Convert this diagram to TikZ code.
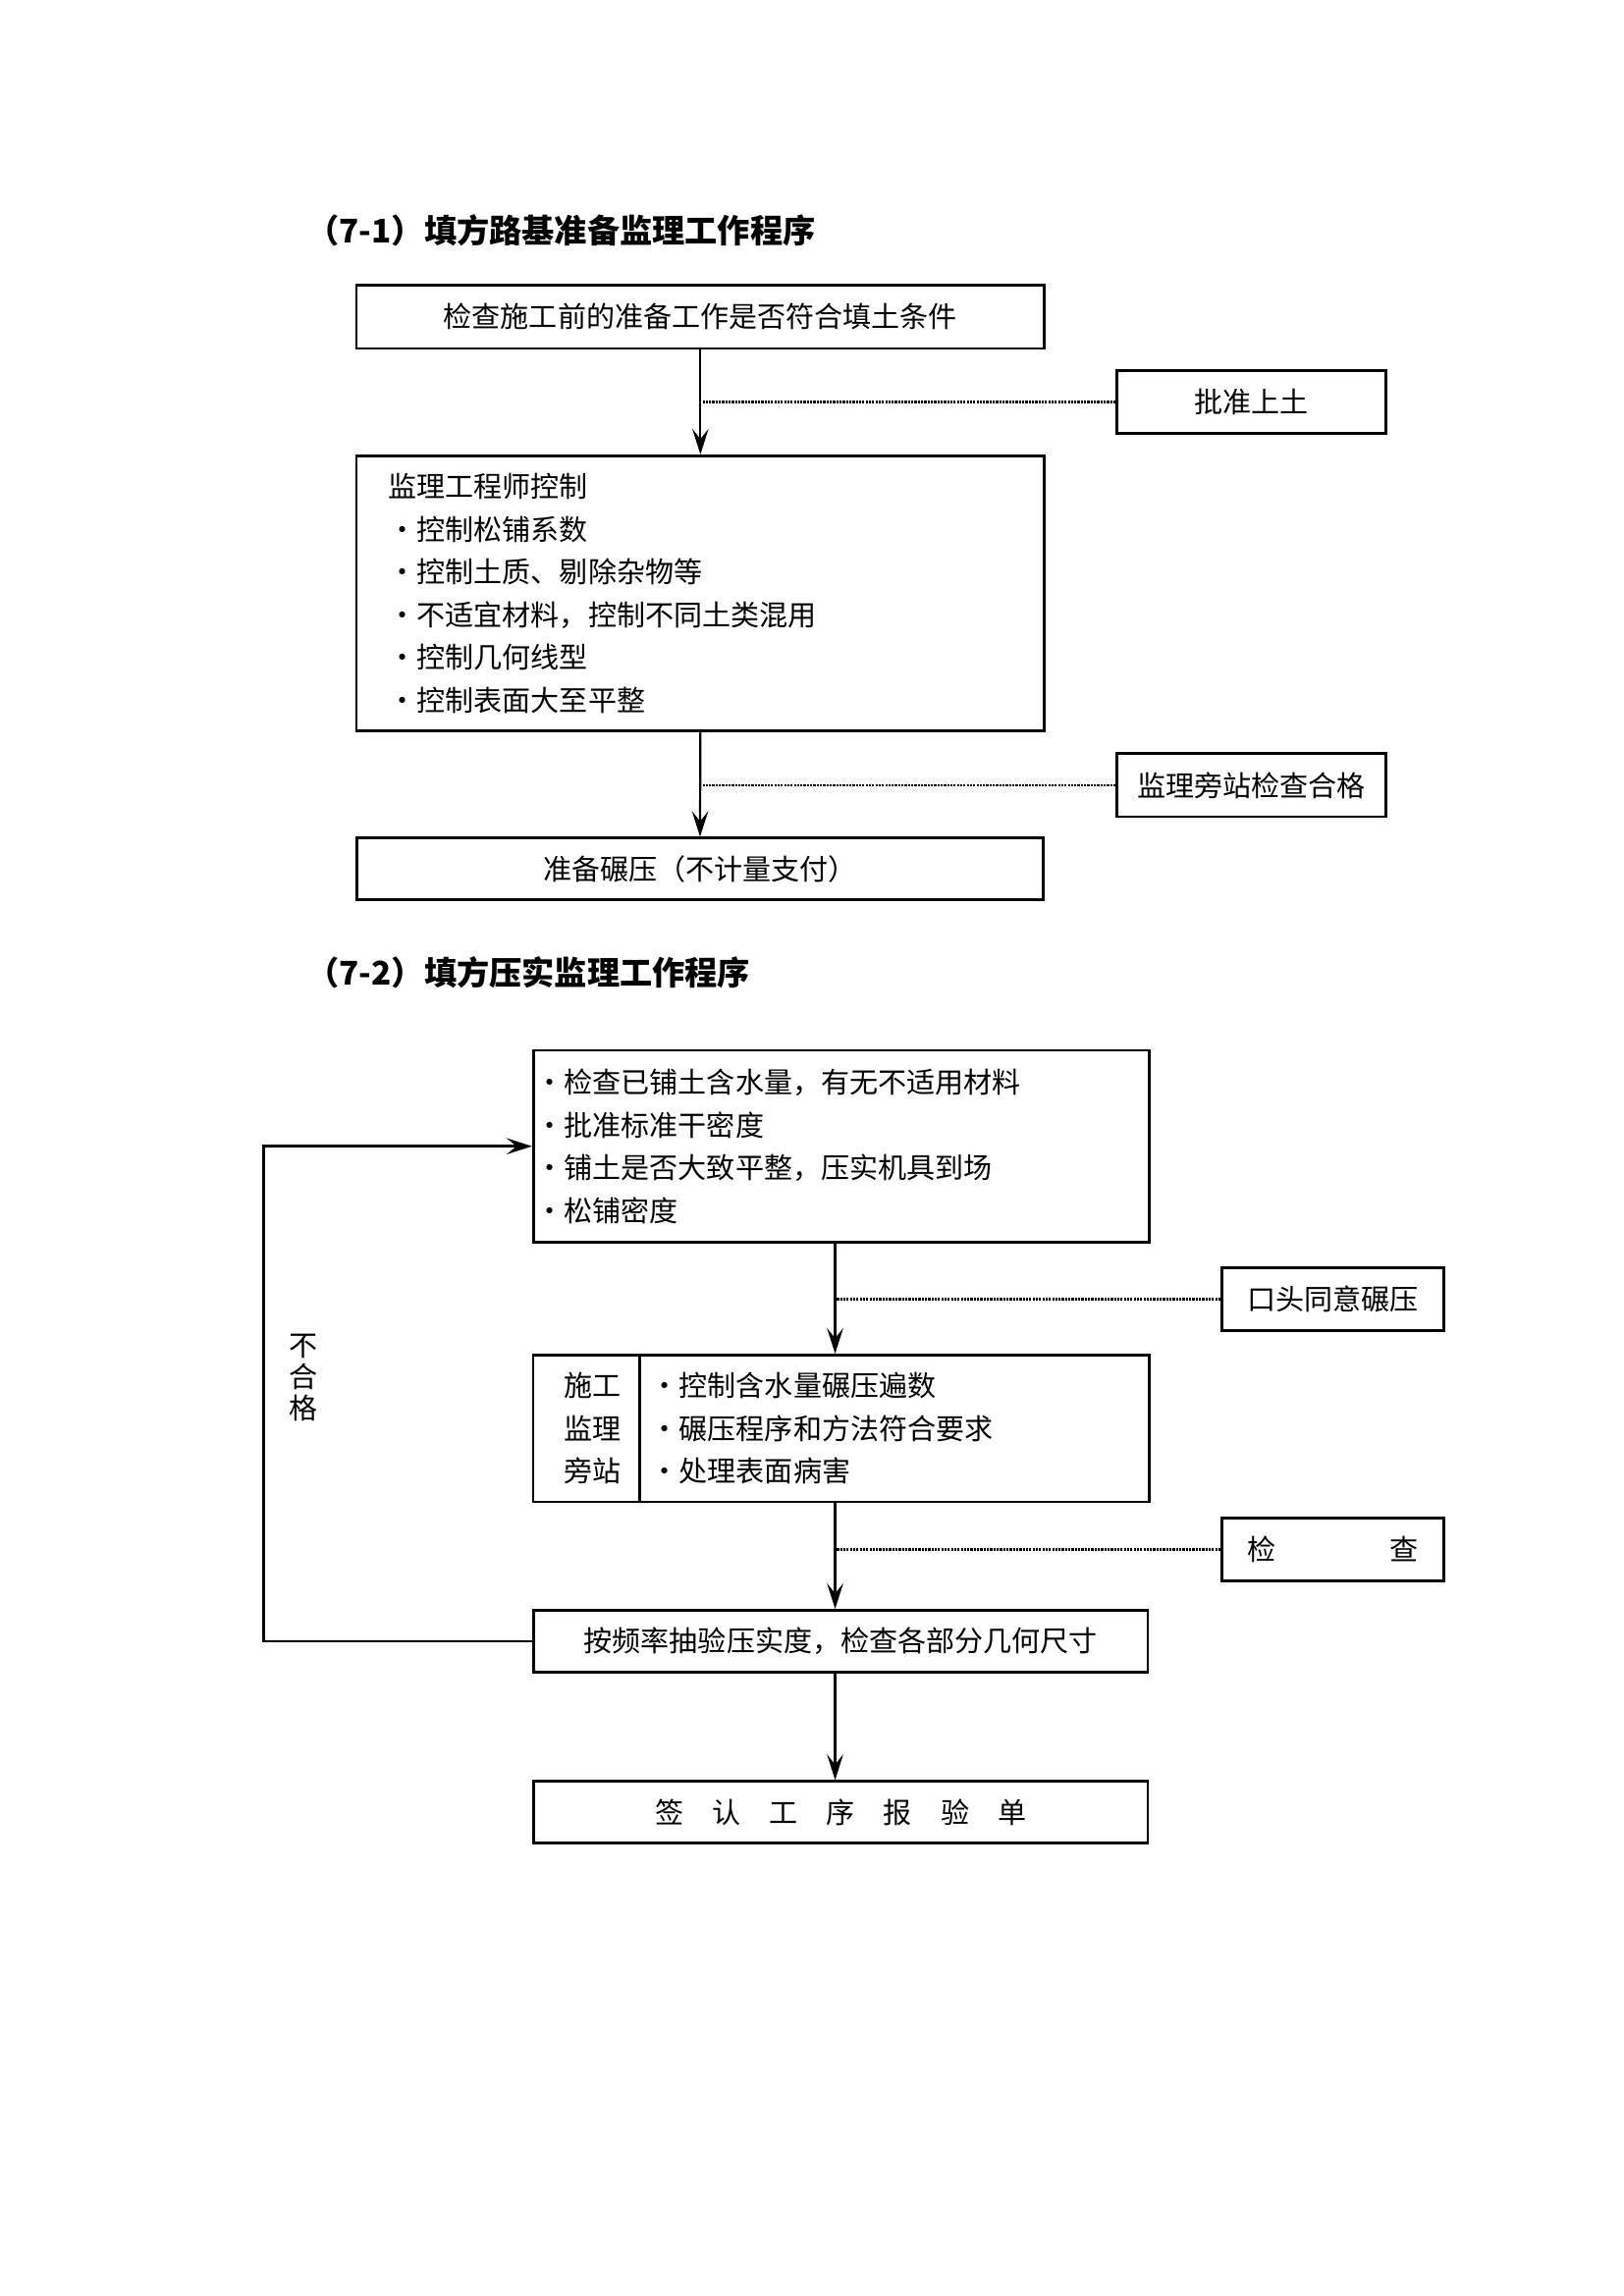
\documentclass[tikz,border=0pt]{standalone}
\usepackage{fontspec}
\setmainfont{Noto Sans CJK SC}
\usetikzlibrary{arrows.meta, positioning}

\newcommand{\bul}{\makebox[1em][c]{•}}

\begin{document}
\begin{tikzpicture}[x=1mm, y=-1mm,
        box/.style={draw, line width=1pt, inner sep=0pt, font=\fontsize{10.5pt}{15.7pt}\selectfont},
        sidebox/.style={box, minimum height=8.15mm},
        arr/.style={-{Stealth[length=3.3mm, width=2.1mm, inset=1.3mm]}, line width=0.8pt},
        dotline/.style={dash pattern=on 0.8pt off 0.4pt, line width=1pt},
        title/.style={anchor=west, inner sep=0pt, font=\fontsize{12pt}{14pt}\selectfont\bfseries}]
        \useasboundingbox (0,0) rectangle (210,297);

        % (7-1)
        \node[title] (t1) at (39.6, 29.75) {（7-1）填方路基准备监理工作程序};
        \node[box, minimum width=89mm, minimum height=8.15mm] (chk) at (90.58, 40.99) {检查施工前的准备工作是否符合填土条件};
        \node[sidebox, minimum width=34.8mm] (appr) at (161.85, 52.03) {批准上土};
        \node[box, minimum width=89mm, minimum height=35.6mm, text width=80.7mm, align=left] (ctl) at (90.58, 76.75)
            {监理工程师控制\\
             \bul 控制松铺系数\\
             \bul 控制土质、剔除杂物等\\
             \bul 不适宜材料，控制不同土类混用\\
             \bul 控制几何线型\\
             \bul 控制表面大至平整};
        \node[sidebox, minimum width=34.8mm] (side1) at (161.85, 101.57) {监理旁站检查合格};
        \node[box, minimum width=88.8mm, minimum height=8mm] (prep) at (90.53, 112.41) {准备碾压（不计量支付）};

        \draw[arr] (chk.south) -- (ctl.north);
        \draw[arr] (ctl.south) -- (prep.north);
        \draw[dotline] (appr.west) -- (appr.west -| chk.south);
        \draw[dotline] (side1.west) -- (side1.west -| ctl.south);

        % (7-2)
        \node[title] (t2) at (39.6, 125.84) {（7-2）填方压实监理工作程序};
        \node[box, minimum width=79.6mm, minimum height=24.8mm, text width=79mm, align=left] (lay) at (108.78, 148.27)
            {\bul 检查已铺土含水量，有无不适用材料\\
             \bul 批准标准干密度\\
             \bul 铺土是否大致平整，压实机具到场\\
             \bul 松铺密度};
        \node[sidebox, minimum width=28.65mm] (oral) at (172.35, 168.02) {口头同意碾压};
        \node[box, minimum width=13.8mm, minimum height=19mm, text width=8.9mm, align=right] (site) at (75.85, 184.78)
            {施工\\监理\\旁站};
        \node[box, right=-1pt of site, minimum width=65.9mm, minimum height=19mm, text width=63.1mm, align=left] (roll)
            {\bul 控制含水量碾压遍数\\
             \bul 碾压程序和方法符合要求\\
             \bul 处理表面病害};
        \node[sidebox, minimum width=28.65mm] (insp) at (172.35, 200.4) {检\hspace{4em}查};
        \node[box, minimum width=79.4mm, minimum height=8mm] (smp) at (108.73, 212.29) {按频率抽验压实度，检查各部分几何尺寸};
        \node[box, minimum width=79.4mm, minimum height=8mm] (sign) at (108.73, 234.42) {签　认　工　序　报　验　单};

        \coordinate (fb) at (34.12, 179.1);
        \coordinate (mid) at (108.0, 179.1);
        \node[inner sep=0pt, font=\fontsize{10.5pt}{11.6pt}\selectfont, align=center] (ng) at (39.2, 178.2) {不\\合\\格};

        \draw[arr] (lay.south -| mid) -- (site.north -| mid);
        \draw[arr] (site.south -| mid) -- (smp.north -| mid);
        \draw[arr] (smp.south -| mid) -- (sign.north -| mid);
        \draw[dotline] (oral.west) -- (oral.west -| mid);
        \draw[dotline] (insp.west) -- (insp.west -| mid);
        \draw[arr, line width=1pt] (smp.west) -- (smp.west -| fb) -- (lay.west -| fb) -- (lay.west);
\end{tikzpicture}
\end{document}
